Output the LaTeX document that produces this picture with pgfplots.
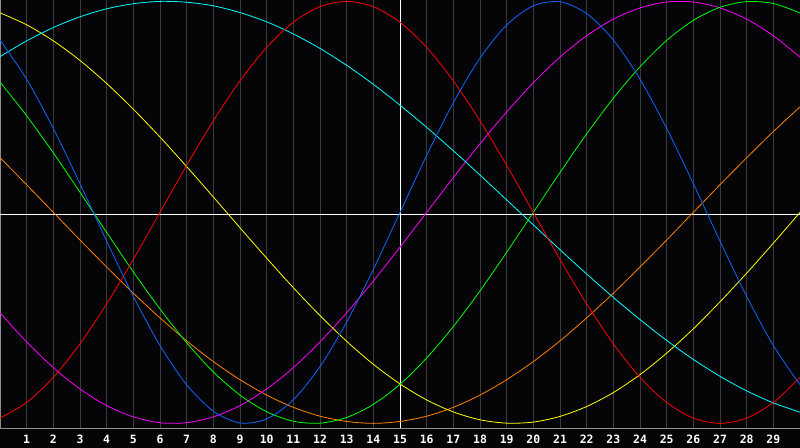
\documentclass[border=0pt]{standalone}
\usepackage{fontspec}
\newfontfamily\tickfont{DejaVu Sans Mono}
\usepackage{pgfplots}
\usepackage{pgfplotstable}
\pgfplotsset{compat=1.18}

\definecolor{bgcol}{RGB}{5,5,8}
\definecolor{gridcol}{RGB}{58,58,58}
\definecolor{framecol}{RGB}{140,140,140}
\definecolor{cblue}{RGB}{16,100,255}
\definecolor{cred}{RGB}{255,0,0}
\definecolor{cgreen}{RGB}{0,255,0}
\definecolor{cmag}{RGB}{255,0,255}
\definecolor{cyel}{RGB}{255,255,0}
\definecolor{corange}{RGB}{255,128,0}
\definecolor{ccyan}{RGB}{0,255,255}

% day, then one column per cycle (23, 28, 33, 38, 43, 48, 53 days)
\pgfplotstableread{
x  blue   red    green  magenta yellow orange cyan
0  0.817 -0.975  0.618 -0.476  0.946  0.259  0.738
1  0.631 -0.901  0.458 -0.614  0.889  0.131  0.813
2  0.398 -0.782  0.282 -0.736  0.813  0.000  0.876
3  0.136 -0.623  0.095 -0.837  0.720 -0.131  0.927
4 -0.136 -0.434 -0.095 -0.916  0.611 -0.259  0.965
5 -0.398 -0.223 -0.282 -0.969  0.489 -0.383  0.989
6 -0.631  0.000 -0.458 -0.997  0.357 -0.500  1.000
7 -0.817  0.223 -0.618 -0.997  0.217 -0.609  0.996
8 -0.942  0.434 -0.756 -0.969  0.073 -0.707  0.979
9 -0.998  0.623 -0.866 -0.916 -0.073 -0.793  0.947
10 -0.979  0.782 -0.945 -0.837 -0.217 -0.866  0.903
11 -0.888  0.901 -0.990 -0.736 -0.357 -0.924  0.846
12 -0.731  0.975 -0.999 -0.614 -0.489 -0.966  0.777
13 -0.520  1.000 -0.972 -0.476 -0.611 -0.991  0.697
14 -0.270  0.975 -0.910 -0.325 -0.720 -1.000  0.607
15  0.000  0.901 -0.815 -0.165 -0.813 -0.991  0.508
16  0.270  0.782 -0.690  0.000 -0.889 -0.966  0.403
17  0.520  0.623 -0.541  0.165 -0.946 -0.924  0.292
18  0.731  0.434 -0.372  0.325 -0.983 -0.866  0.177
19  0.888  0.223 -0.189  0.476 -0.999 -0.793  0.059
20  0.979  0.000  0.000  0.614 -0.994 -0.707 -0.059
21  0.998 -0.223  0.189  0.736 -0.967 -0.609 -0.177
22  0.942 -0.434  0.372  0.837 -0.920 -0.500 -0.292
23  0.817 -0.623  0.541  0.916 -0.854 -0.383 -0.403
24  0.631 -0.782  0.690  0.969 -0.769 -0.259 -0.508
25  0.398 -0.901  0.815  0.997 -0.667 -0.131 -0.607
26  0.136 -0.975  0.910  0.997 -0.552  0.000 -0.697
27 -0.136 -1.000  0.972  0.969 -0.424  0.131 -0.777
28 -0.398 -0.975  0.999  0.916 -0.288  0.259 -0.846
29 -0.631 -0.901  0.990  0.837 -0.146  0.383 -0.903
30 -0.817 -0.782  0.945  0.736  0.000  0.500 -0.947
}\cycles

\begin{document}
\begin{tikzpicture}
\fill[bgcol] (0,-20bp) rectangle (800bp,428bp);
\begin{axis}[
  at={(0,0)}, anchor=south west,
  scale only axis,
  width=800bp, height=428bp,
  xmin=0, xmax=30,
  ymin=-1.022, ymax=1.0066,
  axis line style={framecol, line width=1bp},
  xtick={1,...,29},
  ytick=\empty,
  major tick length=0pt,
  xmajorgrids,
  grid style={gridcol, line width=1bp},
  extra x ticks={15},
  extra x tick labels={},
  extra x tick style={grid=major, major grid style={white, line width=1bp}},
  extra y ticks={-0.008},
  extra y tick labels={},
  extra y tick style={grid=major, major grid style={white, line width=1bp}},
  /pgf/number format/assume math mode=true,
  xticklabel style={font=\tickfont\bfseries\fontsize{11.5}{12}\selectfont,
    text=white, anchor=center, yshift=-11.5bp, inner sep=0pt},
  every axis plot/.append style={line width=0.8bp, smooth, no marks},
]
\addplot[corange] table[x=x, y=orange] {\cycles};
\addplot[cmag] table[x=x, y=magenta] {\cycles};
\addplot[cyel] table[x=x, y=yellow] {\cycles};
\addplot[ccyan] table[x=x, y=cyan] {\cycles};
\addplot[cgreen] table[x=x, y=green] {\cycles};
\addplot[cred] table[x=x, y=red] {\cycles};
\addplot[cblue] table[x=x, y=blue] {\cycles};
\end{axis}
\pgfresetboundingbox
\path[use as bounding box] (0,-20bp) rectangle (800bp,428bp);
\end{tikzpicture}
\end{document}
